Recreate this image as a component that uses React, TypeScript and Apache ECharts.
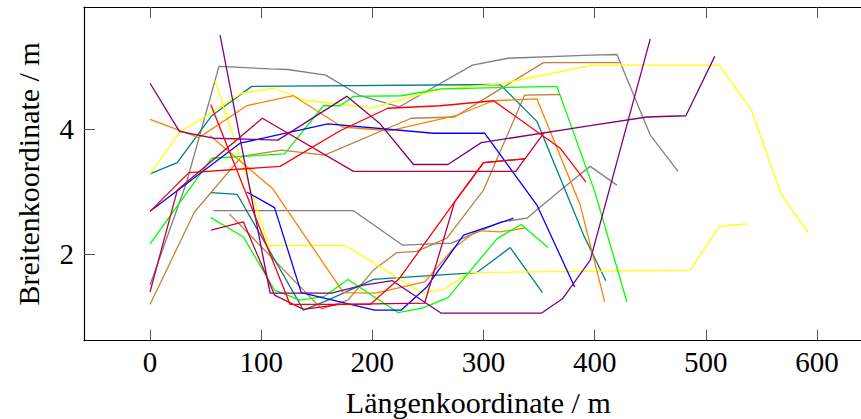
import React, { useEffect, useRef } from "react";
import * as echarts from "echarts";

const X_TICKS = [0, 100, 200, 300, 400, 500, 600];
const Y_TICKS = [2, 4];

const grayA = [[0,1.5],[33,3.15],[62,5.0],[108,4.96],[124,4.95],[158,4.86],[189,4.53],[224,4.35],[290,5.02],[322,5.13],[396,5.18],[420,5.19],[450,3.9],[475,3.32]];
const grayB = [[57,2.69],[183,2.69],[227,2.14],[271,2.17],[316,2.51],[339,2.57],[368,3.0],[396,3.4],[420,3.1]];
const tealA = [[0,3.28],[24.5,3.46],[55.5,4.21],[91.5,4.68],[315,4.71],[348,4.12],[390,2.3],[410,1.57]];
const tealB = [[55,2.98],[78.5,2.95],[138,1.1],[160,1.26],[201,1.59],[234,1.63],[294,1.7],[324,2.1],[353,1.38]];
const yellowA = [[0,3.28],[26.4,3.94],[82.5,4.57],[111,4.65],[141,4.45],[171,4.4],[198,4.33],[262,4.64],[315,4.72],[398,5.02],[512,5.02],[541,4.3],[568,2.94],[592,2.34]];
const yellowB = [[58.5,4.77],[107,2.13],[176,2.13],[245,1.37],[264,1.43],[287,1.7],[486,1.74],[512,2.44],[537,2.48]];
const orangeA = [[0,4.15],[44,3.86],[87,4.37],[129,4.53],[173,4.03],[216,3.97],[275,4.21],[309,4.45],[348,4.48],[387,2.78],[409,1.23]];
const orangeB = [[54,3.89],[110,3.05],[174,1.38],[203,1.37],[247,1.55],[273,2.09],[294,2.37],[315,2.35],[337,2.41]];
const violetA = [[0,4.73],[26.4,3.96],[57,3.85],[115,3.82],[177,4.52],[207,4.08],[237,3.43],[268,3.43],[298,3.78],[396,4.05],[447,4.19],[482,4.21],[508,5.16]];
const violetB = [[63,5.5],[108,1.37],[163,1.37],[192,1.5],[218,1.57],[262,1.05],[352,1.05],[371,1.28],[396,1.9],[450,5.44]];
const purpleA = [[0,1.39],[24.6,3.02],[101,4.17],[183,3.32],[329,3.32],[355,3.95]];
const purpleB = [[55,2.38],[84,2.51],[112,1.34],[138,1.11],[171,1.19],[247,1.21],[274,2.83],[300,3.46],[337,3.52]];
const redA = [[0,2.68],[35,3.3],[117,3.4],[171,3.97],[214,4.33],[261,4.37],[309,4.45],[369,3.69],[392,3.15]];
const redB = [[54.6,4.39],[126,1.19],[198,1.19],[224,1.6],[274,2.83],[300,3.46],[337,3.52]];
const blueA = [[0,2.68],[81,3.77],[160,4.08],[255,3.93],[301,3.93],[348,2.78],[382,1.47]];
const blueB = [[87,2.99],[112,2.74],[136,1.38],[202,1.1],[226,1.1],[249,1.47],[282,2.3],[294,2.37],[327,2.57]];
const greenA = [[0,2.16],[55.5,3.53],[121,3.6],[156,4.37],[171,4.37],[183,4.52],[226,4.53],[262,4.64],[366,4.68],[400,3.0],[429,1.23]];
const greenB = [[54.6,2.58],[84,2.27],[112,1.42],[135,1.26],[157,1.32],[178,1.59],[223,1.06],[245,1.13],[268,1.3],[312,2.24],[334,2.47],[358,2.1]];
const brownA = [[0,1.19],[40,2.67],[82.5,3.56],[118.5,3.66],[157,3.58],[235,4.17],[274,4.19],[354,5.06],[422,5.06]];
const brownB = [[71.3,2.64],[154.4,1.12],[178,1.26],[201,1.74],[222,2.02],[240,2.04],[267,2.25],[300,3.02],[337,4.54],[369,4.55]];

const LINES: [number[][], string][] = [
  [grayA, "#808080"], [grayB, "#808080"],
  [brownA, "#BF8040"], [brownB, "#BF8040"],
  [tealA, "#008080"], [tealB, "#008080"],
  [yellowA, "#FFFF00"], [yellowB, "#FFFF00"],
  [orangeA, "#FF8000"], [orangeB, "#FF8000"],
  [greenA, "#00FF00"], [greenB, "#00FF00"],
  [blueA, "#0000FF"], [blueB, "#0000FF"],
  [violetA, "#800080"], [violetB, "#800080"],
  [purpleA, "#BF0040"], [purpleB, "#BF0040"],
  [redA, "#FF0000"], [redB, "#FF0000"],
];

const FONT = "'Liberation Serif', 'DejaVu Serif', serif";

export default function App() {
  const ref = useRef<HTMLDivElement>(null);
  useEffect(() => {
    if (!ref.current) return;
    const chart = echarts.init(ref.current, undefined, { renderer: "svg" });
    const tickStyle = { color: "#555", width: 1 };
    chart.setOption({
      animation: false,
      backgroundColor: "#fff",
      grid: { left: 84, top: 7, width: 788.6, height: 333.7, containLabel: false, outerBoundsMode: "none" },
      xAxis: [
        {
          type: "value", min: -59.4, max: 650, position: "bottom",
          axisLine: { show: true, onZero: false, lineStyle: { color: "#000", width: 1.2 } },
          axisTick: { show: true, inside: true, length: 11, customValues: X_TICKS, lineStyle: tickStyle },
          axisLabel: { customValues: X_TICKS, fontSize: 29, fontFamily: FONT, color: "#000", margin: 7 },
          splitLine: { show: false },
          name: "Längenkoordinate / m", nameLocation: "middle", nameGap: 47,
          nameTextStyle: { fontSize: 30, fontFamily: FONT, color: "#000" },
        },
        {
          type: "value", min: -59.4, max: 650, position: "top",
          axisLine: { show: true, onZero: false, lineStyle: { color: "#000", width: 1.2 } },
          axisTick: { show: true, inside: true, length: 11, customValues: X_TICKS, lineStyle: tickStyle },
          axisLabel: { show: false },
          splitLine: { show: false },
        },
      ],
      yAxis: [
        {
          type: "value", min: 0.61, max: 5.95, position: "left",
          axisLine: { show: true, onZero: false, lineStyle: { color: "#000", width: 1.2 } },
          axisTick: { show: true, inside: true, length: 11, customValues: Y_TICKS, lineStyle: tickStyle },
          axisLabel: { customValues: Y_TICKS, fontSize: 29, fontFamily: FONT, color: "#000", margin: 10 },
          splitLine: { show: false },
          name: "Breitenkoordinate / m", nameLocation: "middle", nameGap: 41, nameRotate: 90,
          nameTextStyle: { fontSize: 30, fontFamily: FONT, color: "#000" },
        },
        {
          type: "value", min: 0.61, max: 5.95, position: "right",
          axisLine: { show: true, onZero: false, lineStyle: { color: "#000", width: 1.2 } },
          axisTick: { show: true, inside: true, length: 11, customValues: Y_TICKS, lineStyle: tickStyle },
          axisLabel: { show: false },
          splitLine: { show: false },
        },
      ],
      series: LINES.map(([data, color]) => ({
        type: "line",
        data,
        symbol: "none",
        showSymbol: false,
        silent: true,
        lineStyle: { color, width: 1.3 },
        itemStyle: { color },
      })),
    });
    return () => chart.dispose();
  }, []);
  return (
    <div
      ref={ref}
      style={{ position: "fixed", left: 0, top: 0, width: 861, height: 419, background: "#fff" }}
    />
  );
}
